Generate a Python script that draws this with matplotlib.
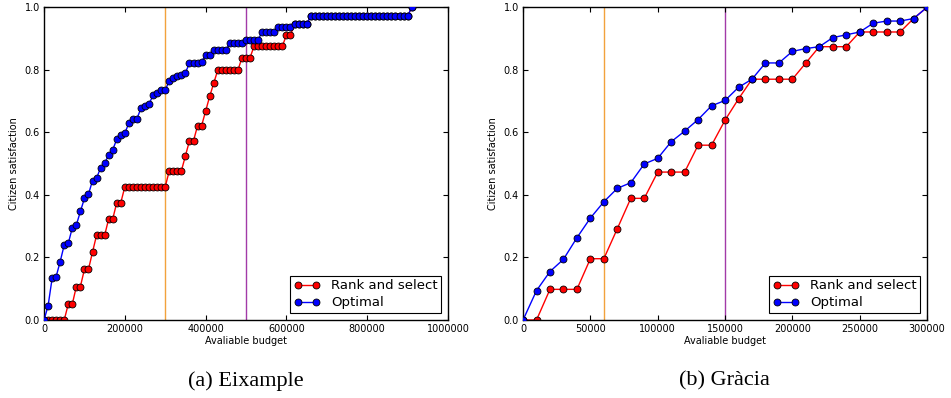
import numpy as np
import matplotlib
matplotlib.use("Agg")
import matplotlib.pyplot as plt

# (a) Eixample: budget every 10000 from 0 to 910000
budget_a = np.arange(0, 920000, 10000)
rank_a = ([0.0] * 6 + [0.051] * 2 + [0.107] * 2 + [0.162] * 2 + [0.217] + [0.271] * 3
          + [0.323] * 2 + [0.375] * 2 + [0.426] * 11 + [0.477] * 4 + [0.525] + [0.573] * 2
          + [0.621] * 2 + [0.668] + [0.715] + [0.757] + [0.799] * 6 + [0.839] * 3
          + [0.876] * 8 + [0.911] * 2 + [0.946] * 4 + [0.971] * 25 + [1.0])
optimal_a = ([0.0, 0.045, 0.133, 0.139, 0.187, 0.240, 0.245, 0.295, 0.304, 0.347,
              0.389, 0.402, 0.446, 0.453, 0.487, 0.501, 0.528, 0.544, 0.578, 0.592,
              0.597, 0.630, 0.644, 0.644, 0.677, 0.683, 0.692, 0.718, 0.727, 0.735,
              0.735, 0.765, 0.773, 0.781, 0.784, 0.791]
             + [0.821, 0.821, 0.821, 0.825] + [0.848] * 2 + [0.862] * 4 + [0.887] * 4
             + [0.896] * 4 + [0.922] * 4 + [0.938] * 4 + [0.946] * 4 + [0.971] * 25 + [1.0])

# (b) Gracia: budget every 10000 from 0 to 300000
budget_b = np.arange(0, 310000, 10000)
rank_b = [0.0, 0.0, 0.098, 0.098, 0.098, 0.196, 0.196, 0.292, 0.389, 0.389,
          0.473, 0.473, 0.473, 0.559, 0.559, 0.639, 0.707, 0.770, 0.770, 0.770,
          0.770, 0.822, 0.874, 0.874, 0.874, 0.921, 0.921, 0.921, 0.921, 0.964, 1.0]
optimal_b = [0.0, 0.094, 0.155, 0.194, 0.263, 0.326, 0.378, 0.421, 0.439, 0.499,
             0.517, 0.570, 0.604, 0.641, 0.685, 0.702, 0.744, 0.770, 0.822, 0.822,
             0.859, 0.868, 0.874, 0.903, 0.912, 0.921, 0.949, 0.956, 0.956, 0.964, 1.0]

vlines_a = [300000, 500000]
vlines_b = [60000, 150000]
xticks_a = list(range(0, 1000001, 200000))
xticks_b = list(range(0, 300001, 50000))
captions = ["(a) Eixample", "(b) Gr\u00e0cia"]

fig = plt.figure(figsize=(9.51, 3.98), dpi=100)
ax1 = fig.add_axes([0.0463, 0.196, 0.4248, 0.7857])
ax2 = fig.add_axes([0.5500, 0.196, 0.4248, 0.7857])

panels = [(ax1, budget_a, rank_a, optimal_a, vlines_a, xticks_a, 1000000),
          (ax2, budget_b, rank_b, optimal_b, vlines_b, xticks_b, 300000)]

for ax, x, r, o, vl, xt, xmax in panels:
    ax.axvline(vl[0], color='#f2a23c', lw=1, zorder=1)
    ax.axvline(vl[1], color='#a23aa8', lw=1, zorder=1)
    ax.plot(x, r, '-o', color='red', mfc='red', mec='black', mew=0.6, ms=5,
            lw=1, label='Rank and select', zorder=2)
    ax.plot(x, o, '-o', color='blue', mfc='blue', mec='black', mew=0.6, ms=5,
            lw=1, label='Optimal', zorder=3)
    ax.set_xlim(0, xmax)
    ax.set_ylim(0, 1.0)
    ax.set_xticks(xt)
    ax.set_xticklabels([str(t) for t in xt])
    ax.set_yticks([0.0, 0.2, 0.4, 0.6, 0.8, 1.0])
    ax.set_yticklabels(['0.0', '0.2', '0.4', '0.6', '0.8', '1.0'])
    ax.tick_params(direction='in', top=True, right=True, labelsize=7, length=3.5,
                   width=0.8, pad=3)
    for s in ax.spines.values():
        s.set_linewidth(1)
    ax.set_xlabel('Avaliable budget', fontsize=7, labelpad=1)
    ax.set_ylabel('Citizen satisfaction', fontsize=7, labelpad=4)
    leg = ax.legend(loc='lower right', numpoints=2, fontsize=9.5, fancybox=False,
                    framealpha=1, edgecolor='black', borderaxespad=0.5,
                    handlelength=2.0, borderpad=0.3, labelspacing=0.3)
    leg.get_frame().set_linewidth(0.8)

fig.text(0.259, 0.043, captions[0], ha='center', va='center', fontsize=16,
         family='Liberation Serif')
fig.text(0.762, 0.043, captions[1], ha='center', va='center', fontsize=16,
         family='Liberation Serif')

plt.savefig("out.png", dpi=100)
